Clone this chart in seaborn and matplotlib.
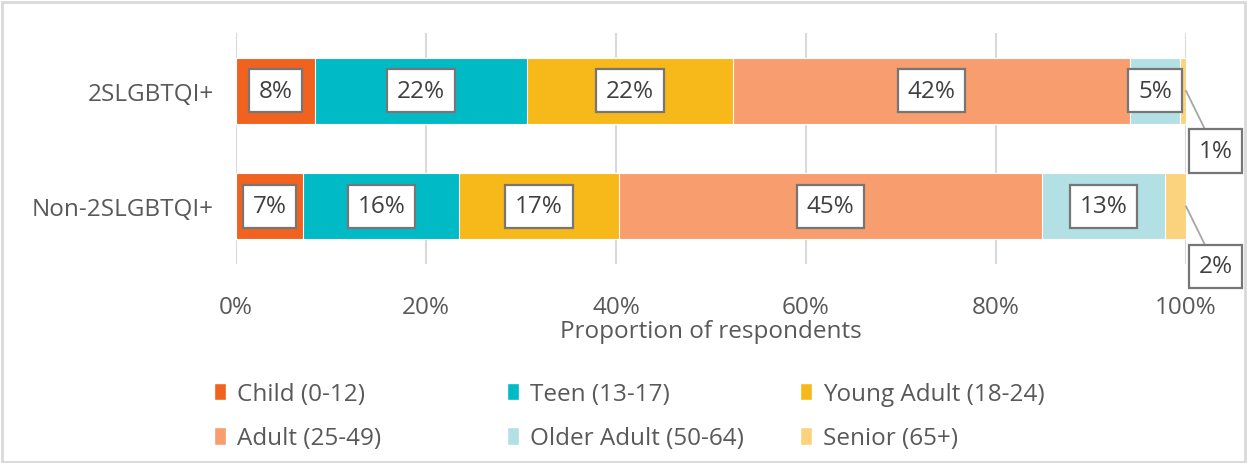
import numpy as np
import pandas as pd
import matplotlib
matplotlib.use("Agg")
import matplotlib.pyplot as plt
import seaborn as sns
from matplotlib.patches import Rectangle, Patch

# -------- Data --------
groups = ["2SLGBTQI+", "Non-2SLGBTQI+"]
age_groups = ["Child (0-12)", "Teen (13-17)", "Young Adult (18-24)",
              "Adult (25-49)", "Older Adult (50-64)", "Senior (65+)"]
lgbt_vals = [8.35, 22.25, 21.7, 41.8, 5.3, 0.6]
non_vals = [7.1, 16.4, 16.8, 44.5, 13.0, 2.2]
lgbt_labels = ["8%", "22%", "22%", "42%", "5%", "1%"]
non_labels = ["7%", "16%", "17%", "45%", "13%", "2%"]
tick_vals = [0, 20, 40, 60, 80, 100]

colors = ["#F1621F", "#00BAC6", "#F7B919", "#F89D6E", "#B2E0E4", "#FBD37F"]
TEXT = "#595959"
FS = 17.5

sns.set_theme(style="white")
plt.rcParams["font.family"] = ["Open Sans", "DejaVu Sans"]

df = pd.DataFrame({"group": np.repeat(groups, len(age_groups)),
                   "age": age_groups * len(groups),
                   "value": lgbt_vals + non_vals})
df["cum"] = df.groupby("group")["value"].cumsum()
df["mid"] = df["cum"] - df["value"] / 2
df["label"] = lgbt_labels + non_labels

fig = plt.figure(figsize=(12.47, 4.64), dpi=100)
ax = fig.add_axes([236 / 1247, 1 - 265 / 464, 950 / 1247, 231 / 464])

# stacked bars: draw cumulative totals from last to first
for i in reversed(range(len(age_groups))):
    sub = df[df["age"] == age_groups[i]]
    sns.barplot(data=sub, x="cum", y="group", order=groups, color=colors[i],
                orient="h", width=0.57, ax=ax, saturation=1,
                edgecolor="white", linewidth=0.8)

ax.set_xlim(0, 100)
ax.set_ylim(1.5, -0.5)
ax.set_xticks(tick_vals)
ax.set_xticklabels([f"{t}%" for t in tick_vals])
ax.xaxis.grid(True, color="#D9D9D9", linewidth=1.5)
ax.set_axisbelow(True)
for s in ax.spines.values():
    s.set_visible(False)
ax.tick_params(axis="x", colors=TEXT, labelsize=FS, length=0, pad=22)
ax.tick_params(axis="y", colors=TEXT, labelsize=FS, length=0, pad=16)
ax.set_xlabel("Proportion of respondents", color=TEXT, fontsize=FS, labelpad=0)
ax.set_ylabel("")

box = dict(boxstyle="square,pad=0.4", facecolor="white", edgecolor="#767676", linewidth=1.6)
for _, r in df.iterrows():
    yi = groups.index(r["group"])
    if r["age"] == "Senior (65+)":
        ax.annotate(r["label"], xy=(r["cum"], yi), xytext=(r["cum"] + 3.1, yi + 0.52),
                    ha="center", va="center", fontsize=FS, color="#404040", bbox=box,
                    annotation_clip=False,
                    arrowprops=dict(arrowstyle="-", color="#A6A6A6", linewidth=1.3,
                                    shrinkA=0, shrinkB=0))
    else:
        ax.text(r["mid"], yi, r["label"], ha="center", va="center", fontsize=FS,
                color="#404040", bbox=box)

# legend: one small legend per column so columns sit at even spacing
handles = [Patch(facecolor=c, label=a) for a, c in zip(age_groups, colors)]
col_x = [214, 507, 800]
for k, x0 in enumerate(col_x):
    idx = [k, k + 3]
    fig.legend([handles[i] for i in idx], [age_groups[i] for i in idx],
               loc="upper left", bbox_to_anchor=(x0 / 1247, 1 - 383 / 464),
               borderpad=0, borderaxespad=0, frameon=False, fontsize=FS,
               labelcolor=TEXT, handlelength=0.5, handleheight=0.75,
               handletextpad=0.45, labelspacing=0.84)

# outer frame
fig.patches.append(Rectangle((0.002, 0.002), 0.996, 0.992, transform=fig.transFigure,
                             fill=False, edgecolor="#D9D9D9", linewidth=2))

fig.savefig("out.png", dpi=100)
